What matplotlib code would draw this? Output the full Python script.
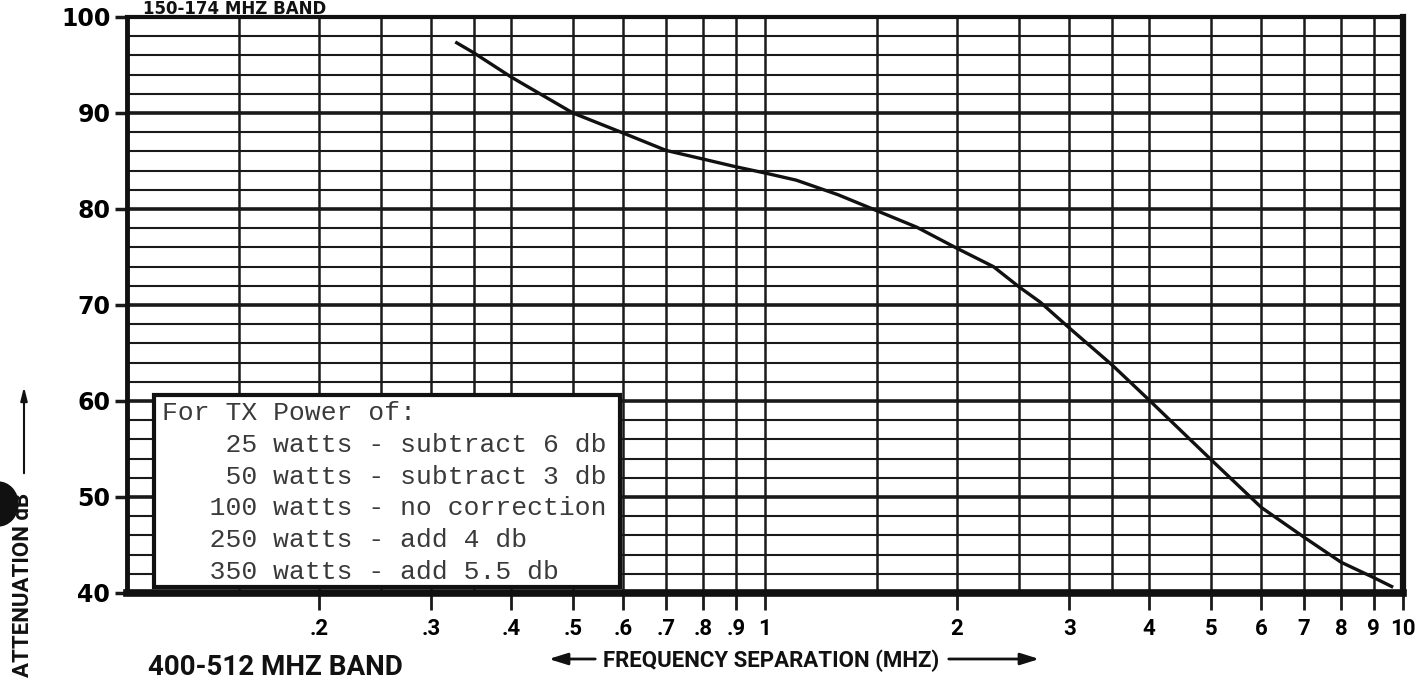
import matplotlib
matplotlib.use("Agg")
import matplotlib.pyplot as plt
from matplotlib.patches import Rectangle, FancyArrowPatch, Ellipse

# ---- data ----
freq_mhz = [0.327, 0.35, 0.4, 0.5, 0.6, 0.7, 0.8, 0.9, 1.0, 1.12, 1.3, 1.5,
            1.73, 2.0, 2.28, 2.5, 2.7, 3.0, 3.5, 4.0, 5.0, 6.0, 7.0, 8.0, 9.0, 9.65]
atten_db = [97.4, 96.25, 93.75, 90.0, 87.9, 86.1, 85.2, 84.4, 83.75, 83.0, 81.5, 79.8,
            78.1, 75.9, 74.0, 71.9, 70.3, 67.6, 63.75, 60.1, 53.9, 48.9, 45.8, 43.2, 41.6, 40.6]

x_tick_vals = [0.2, 0.3, 0.4, 0.5, 0.6, 0.7, 0.8, 0.9, 1, 2, 3, 4, 5, 6, 7, 8, 9, 10]
x_tick_labels = [".2", ".3", ".4", ".5", ".6", ".7", ".8", ".9", "1",
                 "2", "3", "4", "5", "6", "7", "8", "9", "10"]
x_grid_vals = [0.15, 0.2, 0.25, 0.3, 0.35, 0.4, 0.5, 0.6, 0.7, 0.8, 0.9, 1,
               1.5, 2, 2.5, 3, 3.5, 4, 5, 6, 7, 8, 9]
y_tick_vals = [40, 50, 60, 70, 80, 90, 100]
y_grid_vals = list(range(42, 100, 2))

legend_lines = ["For TX Power of:",
                "    25 watts - subtract 6 db",
                "    50 watts - subtract 3 db",
                "   100 watts - no correction",
                "   250 watts - add 4 db",
                "   350 watts - add 5.5 db"]

W, H = 1426, 682
fig = plt.figure(figsize=(W / 100, H / 100), dpi=100)
fig.patch.set_facecolor("white")
ax = fig.add_axes([127 / W, 1 - 593 / H, (1403 - 127) / W, (593 - 17) / H])

ax.set_xscale("log")
ax.set_xlim(0.1, 10)
ax.set_ylim(40, 100)

ink = "#1a1a1a"
for yv in y_grid_vals:
    ax.axhline(yv, color=ink, lw=2.6 if yv % 10 == 0 else 1.5, zorder=1)
for xv in x_grid_vals:
    ax.axvline(xv, color=ink, lw=1.8, zorder=1)

ax.plot(freq_mhz, atten_db, color="#111111", lw=2.4, zorder=3,
        solid_capstyle="butt")

for side, lw in (("left", 3.5), ("bottom", 5.5), ("right", 4.5), ("top", 3.0)):
    ax.spines[side].set_linewidth(lw)
    ax.spines[side].set_color("#111111")

ax.xaxis.set_minor_locator(matplotlib.ticker.NullLocator())
ax.set_xticks(x_tick_vals)
ax.set_xticklabels(x_tick_labels, fontfamily="Roboto", fontweight="bold", fontsize=16)
ax.tick_params(axis="x", direction="out", length=12, width=2, pad=6, color=ink)
ax.set_yticks(y_tick_vals)
ax.set_yticklabels([str(v) for v in y_tick_vals], fontfamily="DejaVu Sans",
                   fontweight="bold", fontsize=17)
ax.tick_params(axis="y", direction="out", length=9, width=2.5, pad=3, color=ink)

# legend box with power corrections
ax.add_patch(Rectangle((0.0212, 0.0104), 0.3652, 0.3336, transform=ax.transAxes,
                       facecolor="white", edgecolor="#111111", lw=3, zorder=5))
line_y_px = [413, 445, 477, 508, 540, 572]
for txt, ypx in zip(legend_lines, line_y_px):
    ax.text((162 - 127) / 1276, (593 - ypx) / 576, txt, transform=ax.transAxes,
            fontfamily="Liberation Mono", fontsize=19, color="#3a3a3a",
            ha="left", va="center", zorder=6)

# band titles
fig.text(143 / W, 1 - 14 / H, "150-174 MHZ BAND", fontfamily="DejaVu Sans",
         fontweight="bold", fontsize=12, ha="left", va="baseline", color="#111111")
fig.text(148 / W, 1 - 675 / H, "400-512 MHZ BAND", fontfamily="Roboto",
         fontweight="bold", fontsize=20, ha="left", va="baseline", color="#111111")

# x axis label with arrows
fig.text(771 / W, 1 - 667 / H, "FREQUENCY SEPARATION (MHZ)", fontfamily="Roboto",
         fontweight="bold", fontsize=16, ha="center", va="baseline", color="#111111")
arrow_kw = dict(arrowstyle="-|>,head_length=0.8,head_width=0.25", color="#111111", lw=2)
fig.add_artist(FancyArrowPatch((598 / W, 1 - 659 / H), (546 / W, 1 - 659 / H),
               transform=fig.transFigure, mutation_scale=14, **arrow_kw))
fig.add_artist(FancyArrowPatch((946 / W, 1 - 659 / H), (1042 / W, 1 - 659 / H),
               transform=fig.transFigure, mutation_scale=14, **arrow_kw))

# hole punch mark from the scan
fig.add_artist(Ellipse((-2 / W, 1 - 504 / H), 40 / W, 44 / H,
               transform=fig.transFigure, color="#111111", zorder=0))

# y axis label with arrow
fig.text(23 / W, 1 - 677 / H, "ATTENUATION dB", fontfamily="Roboto", fontweight="bold",
         fontsize=16, rotation=90, ha="center", va="bottom", color="#111111", zorder=3)
fig.add_artist(FancyArrowPatch((24 / W, 1 - 476 / H), (24 / W, 1 - 384 / H),
               transform=fig.transFigure, mutation_scale=10,
               arrowstyle="-|>,head_length=0.8,head_width=0.2", color="#111111", lw=1.5))

fig.savefig("out.png", dpi=100, facecolor="white")
